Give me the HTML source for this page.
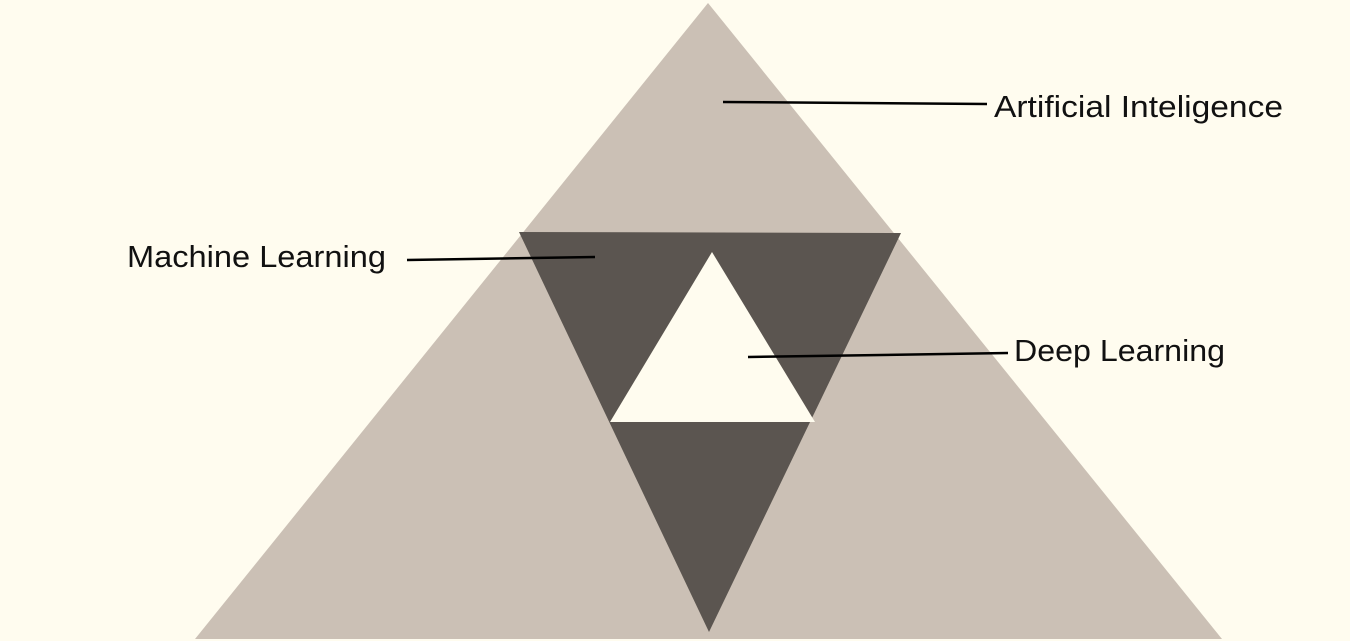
<!DOCTYPE html>
<html><head><meta charset="utf-8"><style>
html,body{margin:0;padding:0;background:#fffcef;}
svg{display:block;}
text{font-family:"Liberation Sans",sans-serif;font-size:31px;fill:#111;}
</style></head><body>
<svg width="1350" height="641" viewBox="0 0 1350 641">
<rect width="1350" height="641" fill="#fffcef"/>
<polygon points="708,3 195,639 1222,639" fill="#cbc0b5"/>
<polygon points="519,232 901,233 709,632" fill="#5b5550"/>
<polygon points="712,252 610,422 815,422" fill="#fffcef"/>
<line x1="723" y1="102" x2="987" y2="104" stroke="#000" stroke-width="2.5"/>
<line x1="407" y1="260" x2="595" y2="257" stroke="#000" stroke-width="2.5"/>
<line x1="748" y1="357" x2="1008" y2="353" stroke="#000" stroke-width="2.5"/>
<text x="994" y="117" textLength="289" lengthAdjust="spacingAndGlyphs">Artificial Inteligence</text>
<text x="127" y="267" textLength="259" lengthAdjust="spacingAndGlyphs">Machine Learning</text>
<text x="1014" y="361" textLength="211" lengthAdjust="spacingAndGlyphs">Deep Learning</text>
</svg>
</body></html>
